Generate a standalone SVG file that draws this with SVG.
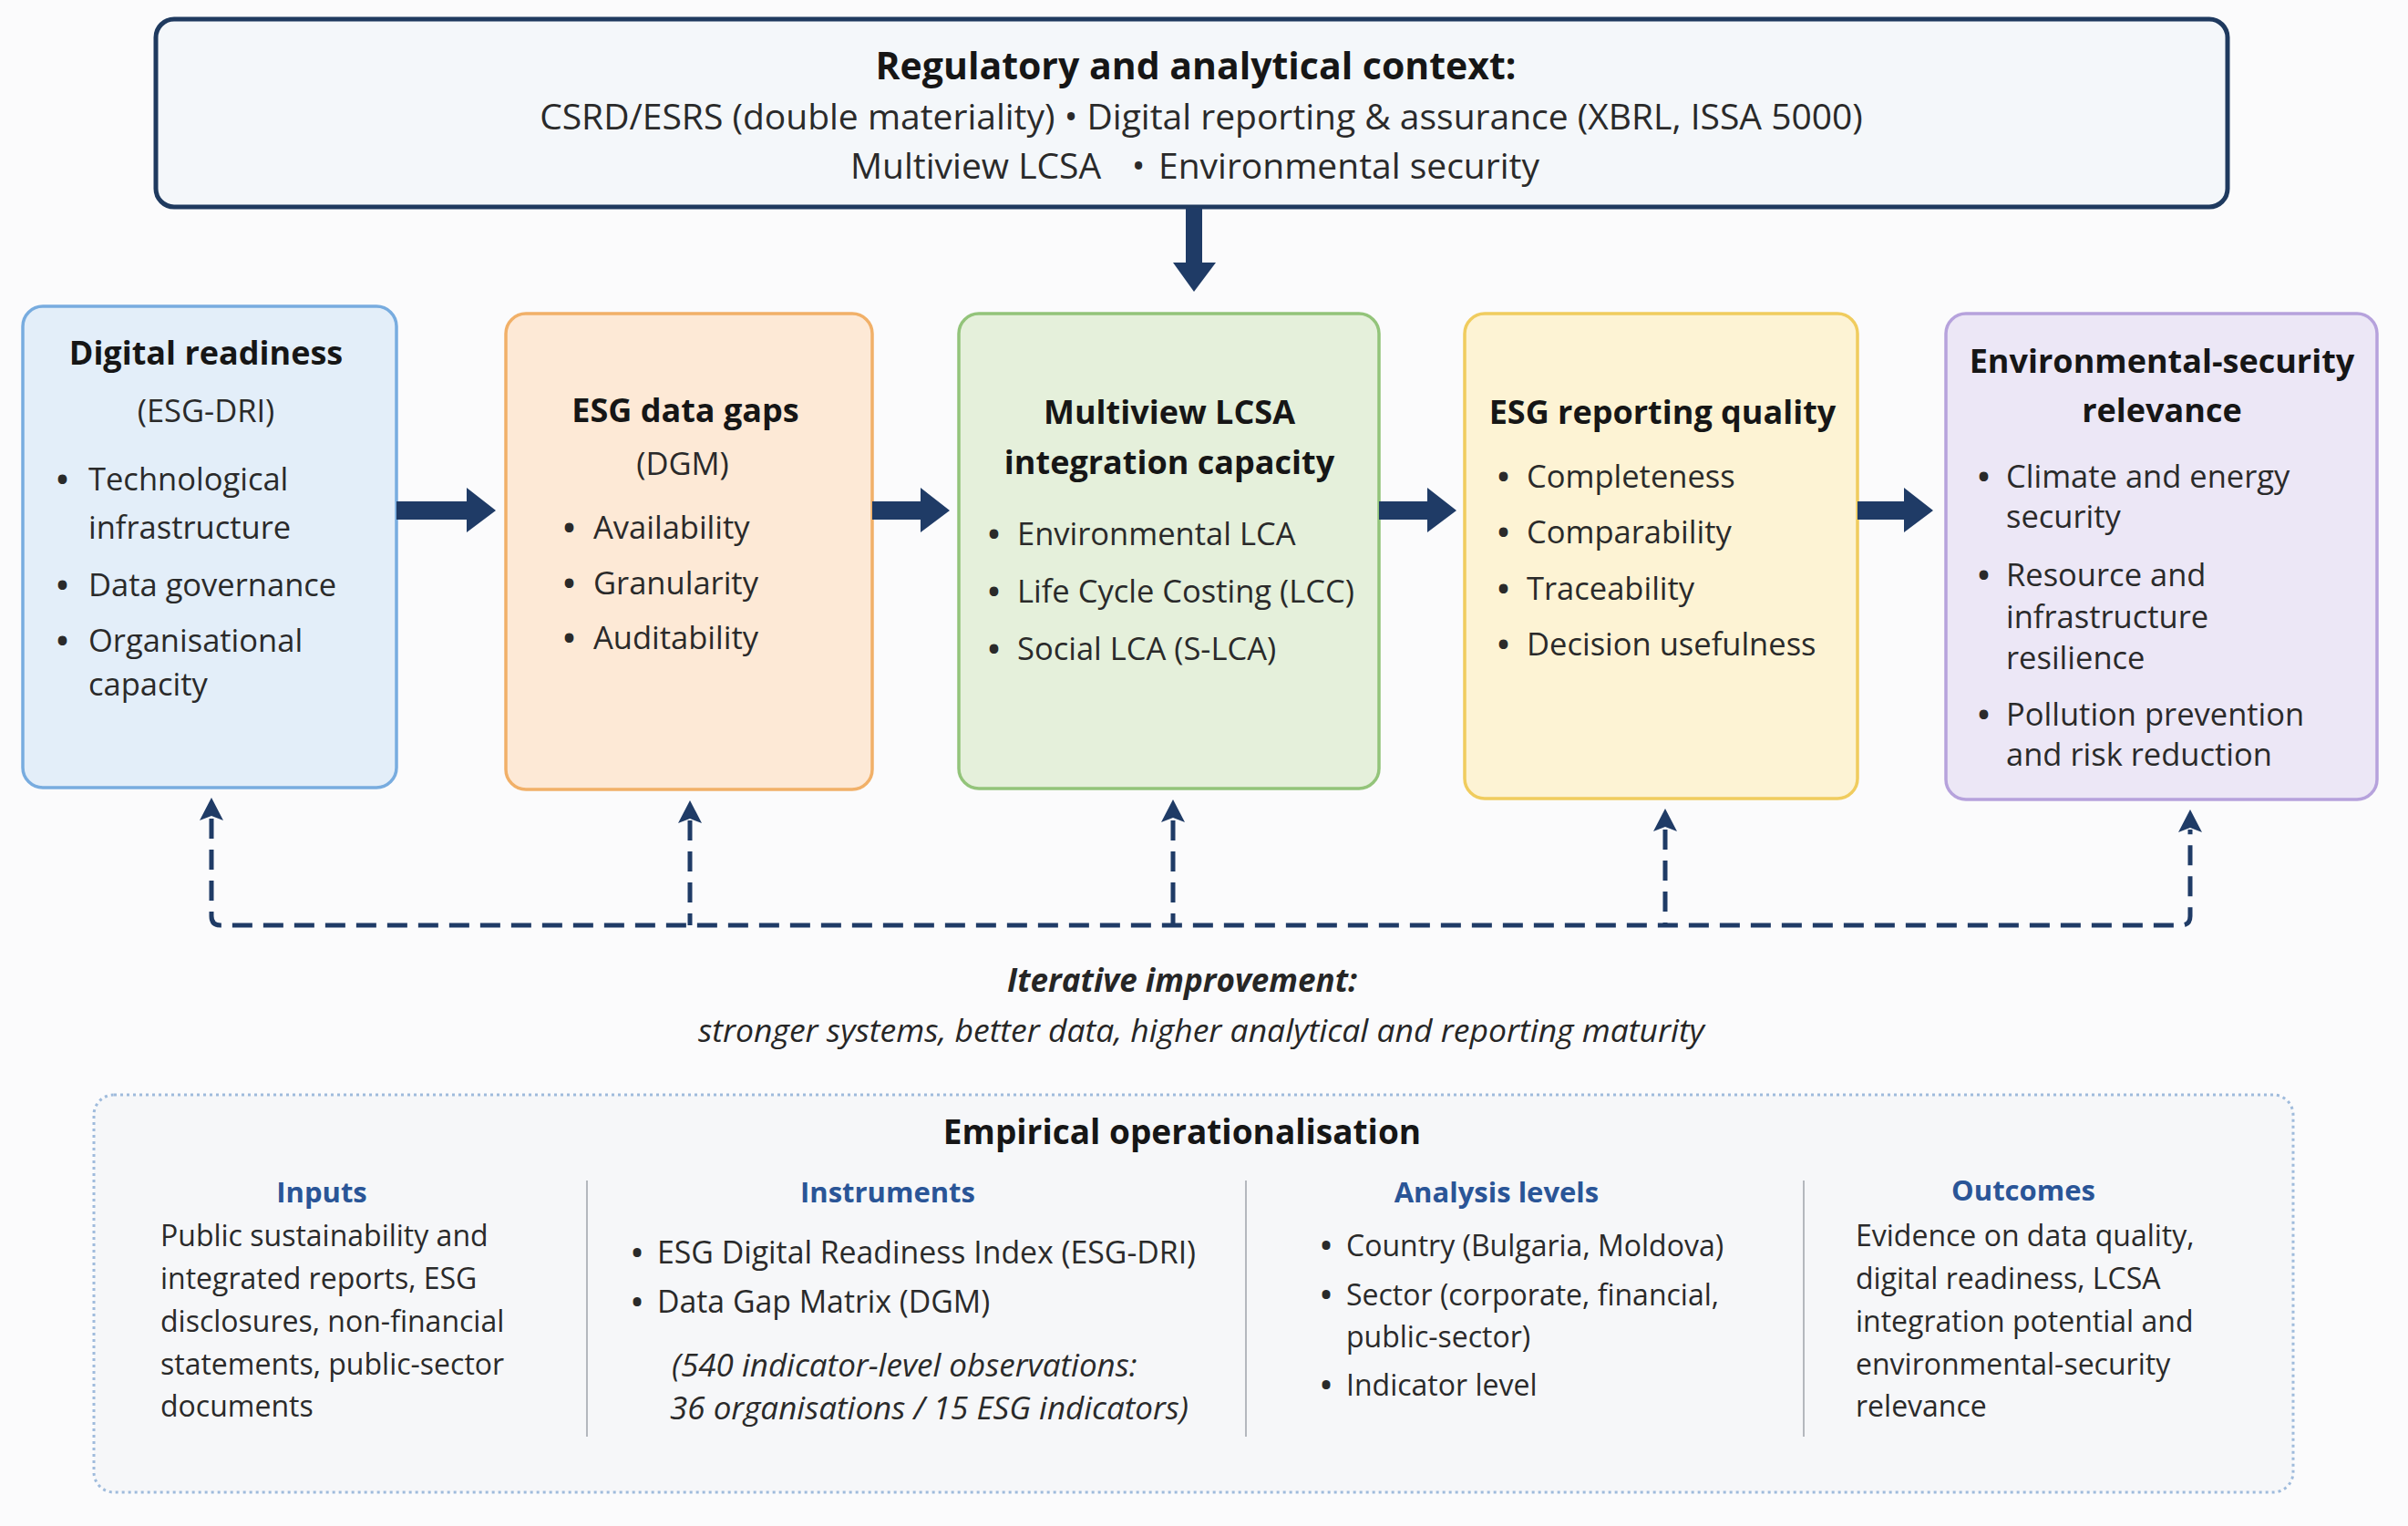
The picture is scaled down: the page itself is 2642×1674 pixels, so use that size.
<svg xmlns="http://www.w3.org/2000/svg" width="2642" height="1674" viewBox="0 0 2642 1674">
<style>
text{font-family:"Open Sans","Noto Sans","Liberation Sans",sans-serif;fill:#262626}
.t{font-weight:700;fill:#161616}
.ctr{text-anchor:middle}
.ctx{font-size:39px;fill:#2a2a2a}
.hd{font-size:36px;font-weight:700;fill:#161616;text-anchor:middle}
.bl{font-size:34.5px;fill:#2a2a2a}
.bt{font-size:32px;fill:#2a2a2a}
.bi{font-size:33.8px;fill:#2a2a2a}
.it{font-size:35px;font-style:italic;fill:#2a2a2a}
.bu{font-weight:700}
.ch{font-size:31px;font-weight:700;fill:#2a5597;text-anchor:middle}
.box{stroke-width:3.5}
.flow{fill:#1f3b66}
.fb{fill:none;stroke:#1f3b66;stroke-width:5;stroke-dasharray:22 12}
.fbh{fill:#1f3b66}
</style>
<rect width="2642" height="1674" fill="#fbfbfc"/>

<g id="context">
<rect x="171" y="21" width="2273" height="206" rx="20" fill="#f4f7fa" stroke="#1f3a5f" stroke-width="5"/>
<text class="t ctr" x="1312" y="87" font-size="41">Regulatory and analytical context:</text>
<text class="ctx ctr" x="1318" y="142">CSRD/ESRS (double materiality) • Digital reporting &amp; assurance (XBRL, ISSA 5000)</text>
<text class="ctx" x="933" y="196">Multiview LCSA</text>
<text class="ctx ctr" x="1249" y="196">•</text>
<text class="ctx" x="1271" y="196">Environmental security</text>
</g>

<g id="digital-readiness">
<rect class="box" x="25" y="336" width="410" height="528" rx="22" fill="#e3eef9" stroke="#78acdf"/>
<text class="hd" x="226" y="400">Digital readiness</text>
<text class="bl ctr" x="226" y="463">(ESG-DRI)</text>
<text class="bl bu" x="62" y="538">•</text><text class="bl" x="97" y="538">Technological</text>
<text class="bl" x="97" y="591">infrastructure</text>
<text class="bl bu" x="62" y="654">•</text><text class="bl" x="97" y="654">Data governance</text>
<text class="bl bu" x="62" y="715">•</text><text class="bl" x="97" y="715">Organisational</text>
<text class="bl" x="97" y="763">capacity</text>
</g>

<g id="data-gaps">
<rect class="box" x="555" y="344" width="402" height="522" rx="22" fill="#fde9d6" stroke="#f1b068"/>
<text class="hd" x="752" y="463">ESG data gaps</text>
<text class="bl ctr" x="749" y="521">(DGM)</text>
<text class="bl bu" x="618" y="591">•</text><text class="bl" x="651" y="591">Availability</text>
<text class="bl bu" x="618" y="652">•</text><text class="bl" x="651" y="652">Granularity</text>
<text class="bl bu" x="618" y="712">•</text><text class="bl" x="651" y="712">Auditability</text>
</g>

<g id="lcsa">
<rect class="box" x="1052" y="344" width="461" height="521" rx="22" fill="#e5f0db" stroke="#93c47a"/>
<text class="hd" x="1283" y="465">Multiview LCSA</text>
<text class="hd" x="1283" y="520">integration capacity</text>
<text class="bl bu" x="1084" y="598">•</text><text class="bl" x="1116" y="598">Environmental LCA</text>
<text class="bl bu" x="1084" y="661">•</text><text class="bl" x="1116" y="661">Life Cycle Costing (LCC)</text>
<text class="bl bu" x="1084" y="724">•</text><text class="bl" x="1116" y="724">Social LCA (S-LCA)</text>
</g>

<g id="reporting-quality">
<rect class="box" x="1607" y="344" width="431" height="532" rx="22" fill="#fdf3d4" stroke="#f0cc5e"/>
<text class="hd" x="1824" y="465">ESG reporting quality</text>
<text class="bl bu" x="1643" y="535">•</text><text class="bl" x="1675" y="535">Completeness</text>
<text class="bl bu" x="1643" y="596">•</text><text class="bl" x="1675" y="596">Comparability</text>
<text class="bl bu" x="1643" y="658">•</text><text class="bl" x="1675" y="658">Traceability</text>
<text class="bl bu" x="1643" y="719">•</text><text class="bl" x="1675" y="719">Decision usefulness</text>
</g>

<g id="env-security">
<rect class="box" x="2135" y="344" width="473" height="533" rx="22" fill="#ece7f6" stroke="#b6a2dc"/>
<text class="hd" x="2372" y="409">Environmental-security</text>
<text class="hd" x="2372" y="463">relevance</text>
<text class="bl bu" x="2170" y="535">•</text><text class="bl" x="2201" y="535">Climate and energy</text>
<text class="bl" x="2201" y="579">security</text>
<text class="bl bu" x="2170" y="643">•</text><text class="bl" x="2201" y="643">Resource and</text>
<text class="bl" x="2201" y="689">infrastructure</text>
<text class="bl" x="2201" y="734">resilience</text>
<text class="bl bu" x="2170" y="796">•</text><text class="bl" x="2201" y="796">Pollution prevention</text>
<text class="bl" x="2201" y="840">and risk reduction</text>
</g>

<g id="connectors">
<path class="flow" d="M1301 228 H1319 V288 H1334 L1310 320 L1287 288 H1301 Z"/>
<path class="flow" d="M435 550 H512 V535 L544 560 L512 584 V570 H435 Z"/>
<path class="flow" d="M957 550 H1010 V535 L1042 560 L1010 584 V570 H957 Z"/>
<path class="flow" d="M1513 550 H1566 V535 L1598 560 L1566 584 V570 H1513 Z"/>
<path class="flow" d="M2038 550 H2089 V535 L2121 560 L2089 584 V570 H2038 Z"/>
<path class="fb" d="M232 898 V1005 Q232 1015 242 1015 H2393 Q2403 1015 2403 1005 V910"/>
<path class="fb" d="M757 900 V1015"/>
<path class="fb" d="M1287 900 V1015"/>
<path class="fb" d="M1827 910 V1015"/>
<path class="fbh" d="M232 875 L245 900 L232 895 L219 900 Z"/>
<path class="fbh" d="M757 878 L770 903 L757 898 L744 903 Z"/>
<path class="fbh" d="M1287 877 L1300 902 L1287 897 L1274 902 Z"/>
<path class="fbh" d="M1827 887 L1840 912 L1827 907 L1814 912 Z"/>
<path class="fbh" d="M2403 888 L2416 913 L2403 908 L2390 913 Z"/>
</g>

<g id="iterative">
<text class="ctr" x="1297" y="1088" font-size="35" font-weight="700" font-style="italic" fill="#161616">Iterative improvement:</text>
<text class="ctr" x="1318" y="1143" font-size="35.5" font-style="italic" fill="#2a2a2a">stronger systems, better data, higher analytical and reporting maturity</text>
</g>

<g id="empirical">
<rect x="103" y="1201" width="2413" height="436" rx="22" fill="#f6f7f9" stroke="#9fbbdc" stroke-width="3" stroke-dasharray="3 4"/>
<text class="t ctr" x="1297" y="1255" font-size="37">Empirical operationalisation</text>
<line x1="644" y1="1295" x2="644" y2="1576" stroke="#b4b8be" stroke-width="2"/>
<line x1="1367" y1="1295" x2="1367" y2="1576" stroke="#b4b8be" stroke-width="2"/>
<line x1="1979" y1="1295" x2="1979" y2="1576" stroke="#b4b8be" stroke-width="2"/>
<text class="ch" x="353" y="1319">Inputs</text>
<text class="ch" x="974" y="1319">Instruments</text>
<text class="ch" x="1642" y="1319">Analysis levels</text>
<text class="ch" x="2220" y="1317">Outcomes</text>
<text class="bt" x="176" y="1367">Public sustainability and</text>
<text class="bt" x="176" y="1414">integrated reports, ESG</text>
<text class="bt" x="176" y="1461">disclosures, non-financial</text>
<text class="bt" x="176" y="1508">statements, public-sector</text>
<text class="bt" x="176" y="1554">documents</text>
<text class="bt bu" x="693" y="1386">•</text><text class="bi" x="721" y="1386">ESG Digital Readiness Index (ESG-DRI)</text>
<text class="bt bu" x="693" y="1440">•</text><text class="bi" x="721" y="1440">Data Gap Matrix (DGM)</text>
<text class="it" x="737" y="1510">(540 indicator-level observations:</text>
<text class="it" x="735" y="1557">36 organisations / 15 ESG indicators)</text>
<text class="bt bu" x="1449" y="1378">•</text><text class="bt" x="1477" y="1378">Country (Bulgaria, Moldova)</text>
<text class="bt bu" x="1449" y="1432">•</text><text class="bt" x="1477" y="1432">Sector (corporate, financial,</text>
<text class="bt" x="1477" y="1478">public-sector)</text>
<text class="bt bu" x="1449" y="1531">•</text><text class="bt" x="1477" y="1531">Indicator level</text>
<text class="bt" x="2036" y="1367">Evidence on data quality,</text>
<text class="bt" x="2036" y="1414">digital readiness, LCSA</text>
<text class="bt" x="2036" y="1461">integration potential and</text>
<text class="bt" x="2036" y="1508">environmental-security</text>
<text class="bt" x="2036" y="1554">relevance</text>
</g>
</svg>
